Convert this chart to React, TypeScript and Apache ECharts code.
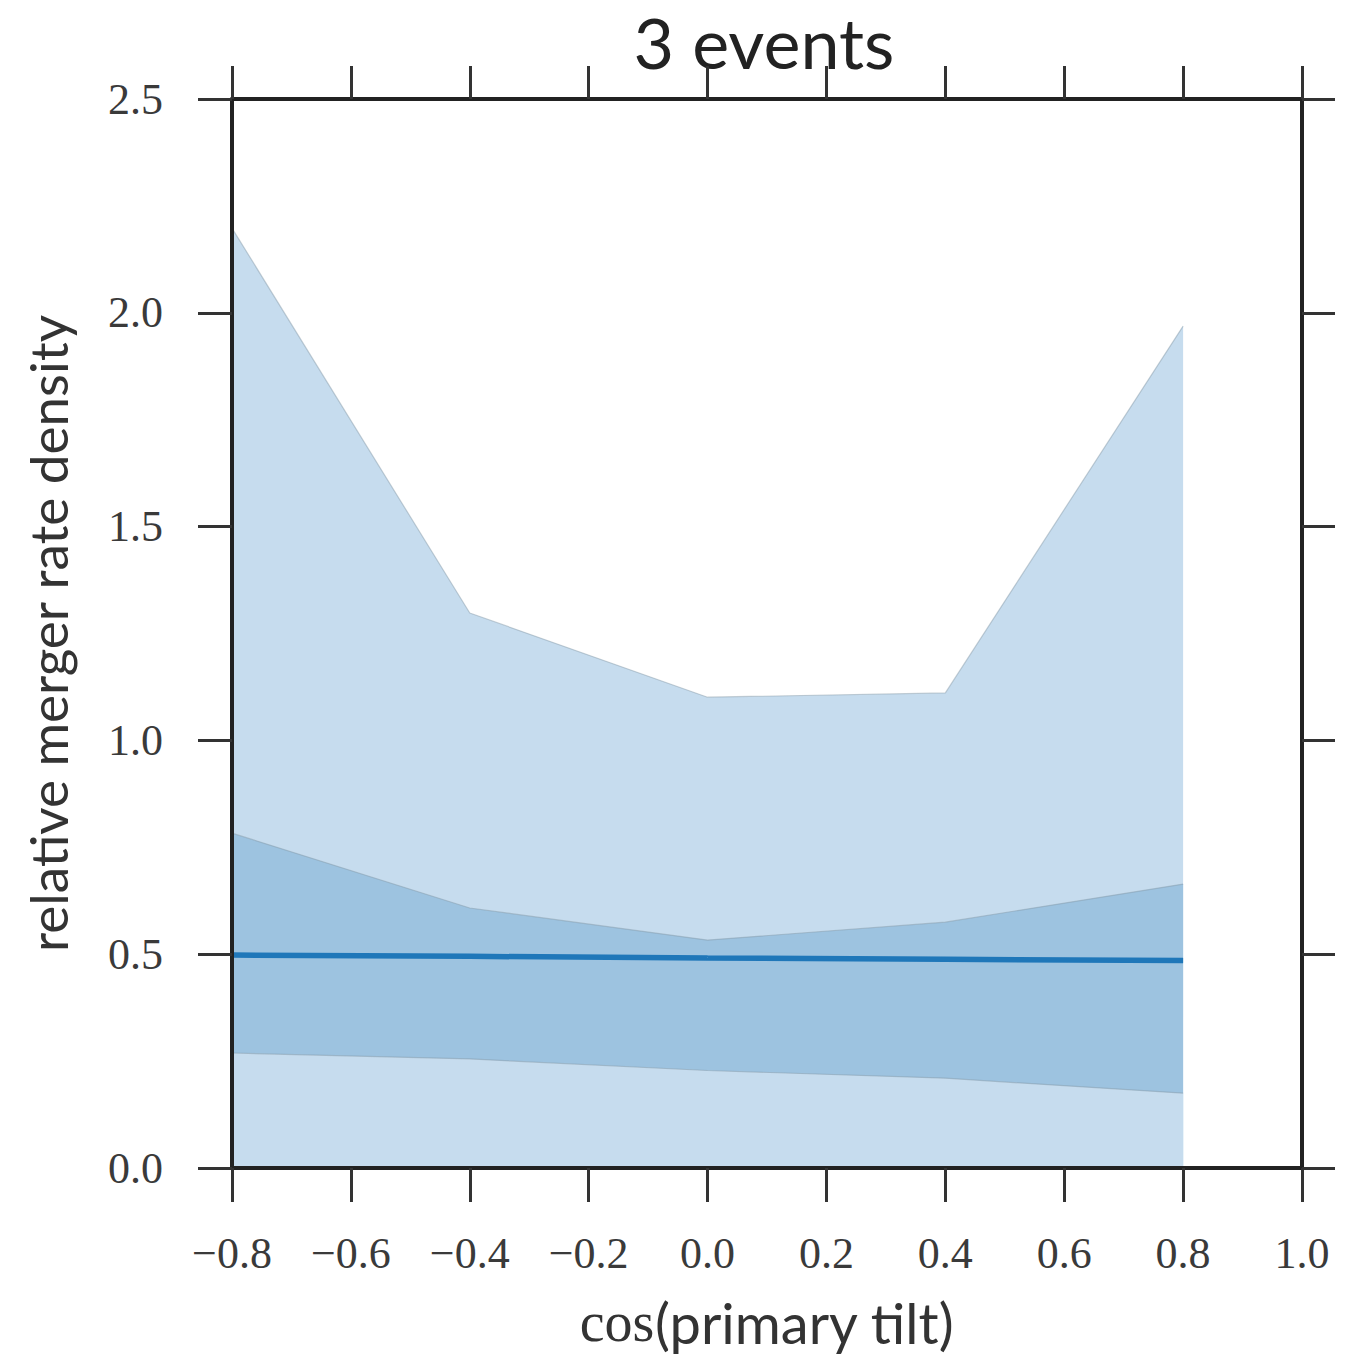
import React, { useEffect, useRef } from "react";
import * as echarts from "echarts";

const xValues = [-0.8, -0.4, 0.0, 0.4, 0.8];
const outerUpper = [2.198, 1.298, 1.101, 1.111, 1.969];
const innerUpper = [0.783, 0.608, 0.533, 0.575, 0.664];
const innerLower = [0.269, 0.255, 0.228, 0.21, 0.175];
const median = [0.498, 0.495, 0.491, 0.488, 0.485];

const titleText = "3 events";
const yLabel = "relative merger rate density";

const fmt = (v: number) => {
  const s = Math.abs(v).toFixed(1);
  return v < -1e-9 ? "\u2212" + s : s;
};

export default function App() {
  const ref = useRef<HTMLDivElement>(null);
  useEffect(() => {
    if (!ref.current) return;
    const chart = echarts.init(ref.current, null, { renderer: "svg" });
    const axisLine = { show: true, onZero: false, lineStyle: { color: "#222", width: 4 } };
    const tickStyle = { color: "#333", width: 3 };
    const labelStyle = {
      fontFamily: "Liberation Serif",
      fontSize: 44,
      color: "#3a3a3a",
    };
    const edge = { color: "rgba(130,150,165,0.45)", width: 1.2 };
    const pts = (ys: number[]) => xValues.map((x, i) => [x, ys[i]]);
    chart.setOption({
      animation: false,
      backgroundColor: "#ffffff",
      title: {
        text: titleText,
        left: 759,
        textAlign: "center",
        top: 2,
        textStyle: {
          fontFamily: "Lato",
          fontWeight: "normal",
          fontSize: 70,
          color: "#222",
        },
      },
      grid: { left: 232, right: 43, top: 99, bottom: 193, containLabel: false },
      xAxis: [
        {
          type: "value",
          position: "bottom",
          z: 10,
          min: -0.8,
          max: 1.0,
          interval: 0.2,
          axisLine,
          axisTick: { show: true, length: 34, lineStyle: tickStyle },
          axisLabel: { ...labelStyle, margin: 63, formatter: fmt },
          splitLine: { show: false },
          name: "{a|cos}{b|(primary tilt)}",
          nameLocation: "middle",
          nameGap: 126,
          nameTextStyle: {
            rich: {
              a: { fontFamily: "Liberation Serif", fontSize: 56, color: "#333" },
              b: { fontFamily: "Lato", fontSize: 56, color: "#333" },
            },
          },
        },
        {
          type: "value",
          position: "top",
          z: 10,
          min: -0.8,
          max: 1.0,
          interval: 0.2,
          axisLine,
          axisTick: { show: true, length: 33, lineStyle: tickStyle },
          axisLabel: { show: false },
          splitLine: { show: false },
        },
      ],
      yAxis: [
        {
          type: "value",
          position: "left",
          z: 10,
          min: 0,
          max: 2.5,
          interval: 0.5,
          axisLine,
          axisTick: { show: true, length: 34, lineStyle: tickStyle },
          axisLabel: { ...labelStyle, margin: 69, formatter: fmt },
          splitLine: { show: false },
          name: yLabel,
          nameLocation: "middle",
          nameGap: 158,
          nameTextStyle: { fontFamily: "Lato", fontSize: 53, color: "#333" },
        },
        {
          type: "value",
          position: "right",
          z: 10,
          min: 0,
          max: 2.5,
          interval: 0.5,
          axisLine,
          axisTick: { show: true, length: 33, lineStyle: tickStyle },
          axisLabel: { show: false },
          splitLine: { show: false },
        },
      ],
      series: [
        {
          type: "line",
          name: "outer",
          data: pts(outerUpper),
          symbol: "none",
          lineStyle: edge,
          areaStyle: { color: "#c6dcee", opacity: 1 },
          z: 1,
        },
        {
          type: "line",
          name: "innerUpper",
          data: pts(innerUpper),
          symbol: "none",
          lineStyle: edge,
          areaStyle: { color: "#9dc3e0", opacity: 1 },
          z: 2,
        },
        {
          type: "line",
          name: "innerLower",
          data: pts(innerLower),
          symbol: "none",
          lineStyle: edge,
          areaStyle: { color: "#c6dcee", opacity: 1 },
          z: 3,
        },
        {
          type: "line",
          name: "median",
          data: pts(median),
          symbol: "none",
          lineStyle: { color: "#1f77b9", width: 5.5 },
          z: 4,
        },
      ],
    });
    return () => chart.dispose();
  }, []);
  return (
    <div
      ref={ref}
      style={{ position: "absolute", left: 0, top: 0, width: 1345, height: 1361 }}
    />
  );
}
